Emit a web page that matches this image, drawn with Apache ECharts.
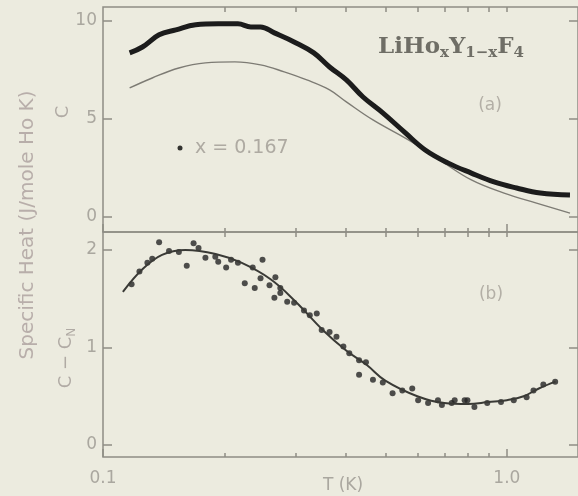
<!DOCTYPE html>
<html>
<head>
<meta charset="utf-8">
<script src="https://cdn.jsdelivr.net/npm/echarts@6/dist/echarts.min.js"></script>
<style>
html,body{margin:0;padding:0;background:#ecebdf;}
#chart{width:578px;height:496px;}
</style>
</head>
<body>
<div id="chart"></div>
<script>
// ---- Data ----
// Panel (a): measured C for x = 0.167 (dense points, drawn as a thick band)
const T_A = [0.1164,0.1252,0.1377,0.1515,0.1696,0.1929,0.2158,0.2323,0.2455,0.2657,0.2973,0.3326,0.3639,0.4004,0.4404,0.4929,0.5606,0.6277,0.7141,0.8166,0.9293,1.057,1.210,1.433];
const C_A = [8.37,8.67,9.29,9.54,9.80,9.85,9.85,9.69,9.69,9.39,8.93,8.37,7.65,6.99,6.12,5.31,4.29,3.42,2.76,2.24,1.79,1.48,1.22,1.12];
// Panel (a): thin curve
const T_A2 = [0.1164,0.1324,0.1541,0.1793,0.2120,0.2455,0.2810,0.3197,0.3639,0.4004,0.4660,0.5703,0.6826,0.8166,0.9840,1.184,1.433];
const C_A2 = [6.58,7.09,7.60,7.86,7.91,7.76,7.40,6.99,6.48,5.87,4.95,3.93,2.90,1.89,1.22,0.71,0.20];
// Panel (b): C - C_N points
const T_B = [0.1177,0.1231,0.1288,0.1324,0.1377,0.1457,0.1541,0.1612,0.1676,0.1724,0.1793,0.1897,0.1929,0.2018,0.2075,0.2158,0.2244,0.2348,0.2375,0.2483,0.2455,0.2584,0.2672,0.2748,0.2657,0.2858,
  0.2748,0.2973,0.3145,0.3251,0.3383,0.3479,0.3639,0.3785,0.3937,0.4072,0.4306,0.4478,0.4306,0.4660,0.4929,0.5212,0.5510,0.5830,0.6030,0.6381,0.6904,0.7425,0.7986,
  0.675,0.730,0.786,0.831,0.894,0.967,1.040,1.119,1.164,1.231,1.317];
const C_B = [1.65,1.78,1.87,1.91,2.08,1.99,1.98,1.84,2.07,2.02,1.92,1.93,1.88,1.82,1.90,1.87,1.66,1.82,1.61,1.90,1.71,1.64,1.72,1.61,1.51,1.47,
  1.56,1.46,1.38,1.33,1.35,1.18,1.16,1.11,1.01,0.94,0.87,0.85,0.72,0.67,0.64,0.53,0.56,0.58,0.46,0.43,0.41,0.46,0.46,
  0.46,0.43,0.46,0.39,0.43,0.44,0.46,0.49,0.56,0.62,0.65];
// Panel (b): thin curve
const T_B2 = [0.112,0.125,0.14,0.16,0.19,0.22,0.26,0.30,0.35,0.40,0.45,0.50,0.60,0.70,0.80,0.90,1.00,1.10,1.20,1.32];
const C_B2 = [1.57,1.80,1.95,2.00,1.96,1.87,1.70,1.47,1.18,0.97,0.82,0.66,0.50,0.43,0.42,0.44,0.46,0.50,0.58,0.65];
// Ticks
const xMajorTicks = [0.1, 1.0];
const xMajorLabels = ['0.1', '1.0'];
const xMinorTicks = [0.2,0.3,0.4,0.5,0.6,0.7,0.8,0.9];
const yTicksA = [0, 5, 10];
const yTicksB = [0, 1, 2];

// ---- Chart ----
const X_MIN = 0.1, X_MAX = 1.5;
const LMIN = Math.log10(X_MIN), LMAX = Math.log10(X_MAX);
const AXC = '#8e8d85';
const TXT = '#aaa79f';
const FONT = 'DejaVu Sans';

function pairs(xs, ys){ return xs.map((x,i)=>[x, ys[i]]); }

function xAxesFor(g, showLabels){
  const base = {type:'value', gridIndex:g, min:LMIN, max:LMAX, splitLine:{show:false},
    axisLine:{show:false, onZero:false}};
  return [
    {type:'log', logBase:10, gridIndex:g, min:X_MIN, max:X_MAX, show:false, axisLine:{onZero:false}},
    Object.assign({}, base, {position:'bottom',
      axisTick:{show:true, inside:true, length:8, customValues: xMajorTicks.map(Math.log10), lineStyle:{color:AXC, width:1.5}},
      axisLabel:{show:showLabels, customValues: xMajorTicks.map(Math.log10), margin:13,
        color:TXT, fontFamily:FONT, fontSize:17,
        formatter: v => { let bi=0, bd=1e9; xMajorTicks.forEach((t,i)=>{const d=Math.abs(Math.log10(t)-v); if(d<bd){bd=d;bi=i;}}); return xMajorLabels[bi]; }}}),
    Object.assign({}, base, {position:'bottom',
      axisTick:{show:true, inside:true, length:4, customValues: xMinorTicks.map(Math.log10), lineStyle:{color:AXC, width:1.5}},
      axisLabel:{show:false}}),
    Object.assign({}, base, {position:'top',
      axisTick:{show:true, inside:true, length:5, customValues: xMinorTicks.concat([1.0]).map(Math.log10), lineStyle:{color:AXC, width:1.5}},
      axisLabel:{show:false}})
  ];
}

function yAxesFor(g, min, max, ticks){
  const common = {type:'value', gridIndex:g, min:min, max:max, splitLine:{show:false},
    axisLine:{show:false, onZero:false}};
  return [
    Object.assign({}, common, {position:'left',
      axisTick:{show:true, inside:true, length:9, customValues:ticks, lineStyle:{color:AXC, width:1.5}},
      axisLabel:{show:true, customValues:ticks, margin:6, color:TXT, fontFamily:FONT, fontSize:17}}),
    Object.assign({}, common, {position:'right',
      axisTick:{show:true, inside:true, length:9, customValues:ticks, lineStyle:{color:AXC, width:1.5}},
      axisLabel:{show:false}})
  ];
}

const chart = echarts.init(document.getElementById('chart'), null, {renderer:'canvas'});
chart.setOption({
  backgroundColor:'#ecebdf',
  animation:false,
  grid:[
    {left:103, top:7, width:482, height:225, show:true, borderColor:AXC, borderWidth:1.5, backgroundColor:'transparent'},
    {left:103, top:232, width:482, height:225, show:true, borderColor:AXC, borderWidth:1.5, backgroundColor:'transparent'}
  ],
  xAxis: xAxesFor(0, false).concat(xAxesFor(1, true)),
  yAxis: yAxesFor(0, -0.765, 10.71, yTicksA).concat(yAxesFor(1, -0.123, 2.185, yTicksB)),
  series:[
    {name:'C theory', type:'line', xAxisIndex:0, yAxisIndex:0, data:pairs(T_A2, C_A2), smooth:0.4,
      showSymbol:false, lineStyle:{color:'#7d7b74', width:1.4}},
    {name:'C x=0.167', type:'line', xAxisIndex:0, yAxisIndex:0, data:pairs(T_A, C_A), smooth:0.4,
      showSymbol:false, lineStyle:{color:'#1c1c1c', width:5}},
    {name:'C-CN fit', type:'line', xAxisIndex:4, yAxisIndex:2, data:pairs(T_B2, C_B2), smooth:0.4,
      showSymbol:false, lineStyle:{color:'#3a3a36', width:2}},
    {name:'C-CN', type:'scatter', xAxisIndex:4, yAxisIndex:2, data:pairs(T_B, C_B),
      symbol:'circle', symbolSize:6, itemStyle:{color:'#242424'}}
  ],
  graphic:[
    {type:'text', x:28, y:225, rotation:Math.PI/2,
      style:{text:'Specific Heat (J/mole Ho K)', fill:'#b8aeaa', font:'20px "DejaVu Sans"', align:'center', verticalAlign:'middle'}},
    {type:'text', x:63, y:112, rotation:Math.PI/2,
      style:{text:'C', fill:'#b0aaa4', font:'18px "DejaVu Sans"', align:'center', verticalAlign:'middle'}},
    {type:'text', x:66, y:358, rotation:Math.PI/2,
      style:{text:'{m|C − C}{s|N}', align:'center', verticalAlign:'middle',
        rich:{m:{fill:'#b0aaa4', fontFamily:FONT, fontSize:18, lineHeight:24, verticalAlign:'middle'},
              s:{fill:'#b0aaa4', fontFamily:FONT, fontSize:12, lineHeight:14, verticalAlign:'bottom'}}}},
    {type:'text', x:378, y:47,
      style:{text:'{b|LiHo}{s|x}{b|Y}{s|1−x}{b|F}{s|4}', align:'left', verticalAlign:'middle',
        rich:{b:{fill:'#6f6e66', fontFamily:'DejaVu Serif', fontWeight:'bold', fontSize:23, lineHeight:28, verticalAlign:'middle'},
              s:{fill:'#6f6e66', fontFamily:'DejaVu Serif', fontWeight:'bold', fontSize:15, lineHeight:16, verticalAlign:'bottom'}}}},
    {type:'text', x:490, y:106,
      style:{text:'(a)', fill:'#b3afa6', font:'17px "DejaVu Sans"', align:'center', verticalAlign:'middle'}},
    {type:'text', x:491, y:295,
      style:{text:'(b)', fill:'#b3afa6', font:'17px "DejaVu Sans"', align:'center', verticalAlign:'middle'}},
    {type:'circle', shape:{cx:180, cy:148, r:2.5}, style:{fill:'#333330'}},
    {type:'text', x:195, y:148,
      style:{text:'x = 0.167', fill:'#aeaaa2', font:'19px "DejaVu Sans"', align:'left', verticalAlign:'middle'}},
    {type:'text', x:343, y:486,
      style:{text:'T (K)', fill:'#aaa79f', font:'17px "DejaVu Sans"', align:'center', verticalAlign:'middle'}}
  ]
});
</script>
</body>
</html>
